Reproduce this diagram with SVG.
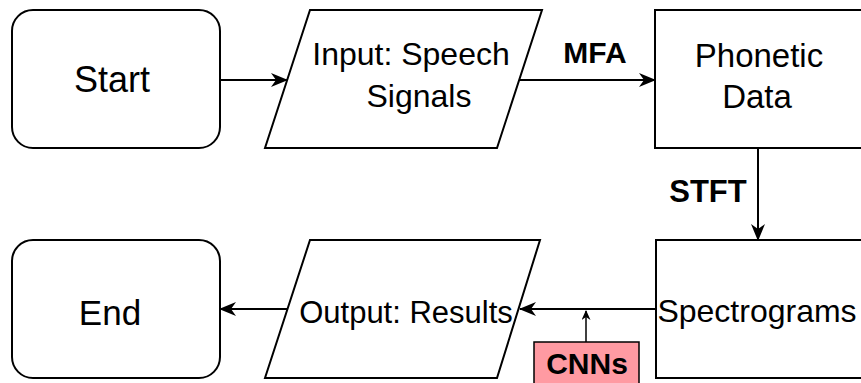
<svg xmlns="http://www.w3.org/2000/svg" width="861" height="383" viewBox="0 0 861 383">
<style>
.shape{fill:#fff;stroke:#000;stroke-width:2}
.t{font-family:"Liberation Sans",Arial,sans-serif;fill:#000;text-anchor:middle}
.b{font-weight:bold}
.edge{fill:none;stroke:#000;stroke-width:2}
</style>
<defs>
<marker id="arr" viewBox="0 0 17 14" refX="16" refY="7" markerWidth="17" markerHeight="14" markerUnits="userSpaceOnUse" orient="auto">
<path d="M0,0 L17,7 L0,14 L5,7 Z" fill="#000"/>
</marker>
<marker id="arrs" viewBox="0 0 10 9" refX="9" refY="4.5" markerWidth="10" markerHeight="9" markerUnits="userSpaceOnUse" orient="auto">
<path d="M0,0 L10,4.5 L0,9 L3,4.5 Z" fill="#000"/>
</marker>
</defs>
<rect width="861" height="383" fill="#fff"/>
<g id="connectors">
<line class="edge" x1="220" y1="80" x2="287" y2="80" marker-end="url(#arr)"/>
<line class="edge" x1="519" y1="80" x2="655" y2="80" marker-end="url(#arr)"/>
<line class="edge" x1="758" y1="148" x2="758" y2="240" marker-end="url(#arr)"/>
<line class="edge" x1="656" y1="309" x2="520" y2="309" marker-end="url(#arr)"/>
<line class="edge" x1="287" y1="309" x2="220" y2="309" marker-end="url(#arr)"/>
<line x1="586" y1="342" x2="586" y2="311" stroke="#000" stroke-width="1.5" marker-end="url(#arrs)"/>
<text class="t b" x="595" y="63" font-size="30">MFA</text>
<text class="t b" x="708" y="202" font-size="31">STFT</text>
</g>
<g id="start">
<rect class="shape" x="12" y="10" width="208" height="138" rx="21"/>
<text class="t" x="112" y="92" font-size="36">Start</text>
</g>
<g id="input">
<polygon class="shape" points="310,10 542,10 497,148 265,148"/>
<text class="t" x="411" y="65" font-size="32">Input: Speech</text>
<text class="t" x="419" y="107" font-size="32">Signals</text>
</g>
<g id="phonetic">
<rect class="shape" x="655" y="10" width="212" height="138"/>
<text class="t" x="759" y="67" font-size="33">Phonetic</text>
<text class="t" x="757" y="108" font-size="33">Data</text>
</g>
<g id="spectrograms">
<rect class="shape" x="656" y="240" width="212" height="138"/>
<text class="t" x="757" y="322" font-size="32">Spectrograms</text>
</g>
<g id="output">
<polygon class="shape" points="310,240 540,240 497,378 265,378"/>
<text class="t" x="406" y="323" font-size="31">Output: Results</text>
</g>
<g id="end">
<rect class="shape" x="12" y="240" width="208" height="138" rx="21"/>
<text class="t" x="110" y="325" font-size="35">End</text>
</g>
<g id="cnns">
<rect x="534" y="342" width="105" height="45" fill="#ff9aa2" stroke="#000" stroke-width="1.5"/>
<text class="t b" x="587" y="374" font-size="30">CNNs</text>
</g>
</svg>
